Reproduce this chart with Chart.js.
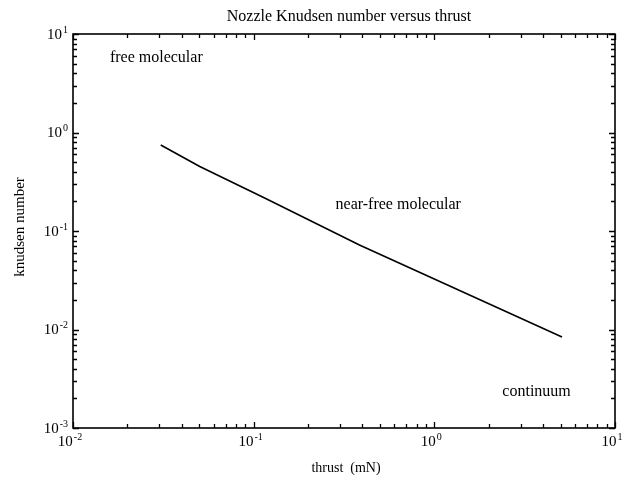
<!DOCTYPE html>
<html lang="en">
<head>
    <title>Nozzle Knudsen number versus thrust</title>
    <script src="https://cdn.jsdelivr.net/npm/chart.js"></script>
    <style>
        body { margin: 0; background: #fff; }
        #chartContainer { width: 626px; height: 481px; }
    </style>
</head>
<body>

<div id="chartContainer">
    <canvas id="knudsenChart" width="626" height="481"></canvas>
</div>

<script>
// values (log-log)
const thrust = [0.0306, 0.0503, 0.115, 0.385, 5.09];      // mN
const knudsen = [0.746, 0.452, 0.216, 0.0721, 0.0084];

// decade exponents for the tick labels
const xExponents = [-2, -1, 0, 1];
const yExponents = [-3, -2, -1, 0, 1];

// flow regime labels, placed in data coordinates
const regionLabels = ['free molecular', 'near-free molecular', 'continuum'];
const regionX = [0.016, 0.284, 2.38];
const regionY = [5.8, 0.184, 0.00232];

const FONT = '"Liberation Serif", "Times New Roman", serif';

// draws "10" with a raised exponent
function drawPow(ctx, exp, px, py, align) {
    const base = '10';
    const sup = String(exp);
    ctx.font = '15px ' + FONT;
    const wb = ctx.measureText(base).width;
    ctx.font = '10px ' + FONT;
    const ws = ctx.measureText(sup).width;
    const total = wb + ws + 1;
    let left = px;
    if (align === 'right') left = px - total;
    if (align === 'center') left = px - total / 2;
    ctx.textAlign = 'left';
    ctx.textBaseline = 'middle';
    ctx.font = '15px ' + FONT;
    ctx.fillText(base, left, py);
    ctx.font = '10px ' + FONT;
    ctx.fillText(sup, left + wb + 1, py - 5);
}

// frame, inward ticks on all sides, labels and titles
const decorPlugin = {
    id: 'decor',
    afterDraw(chart) {
        const { ctx, chartArea: a, scales: { x, y } } = chart;
        ctx.save();
        ctx.strokeStyle = '#000';
        ctx.fillStyle = '#000';
        ctx.lineWidth = 1.6;
        ctx.strokeRect(a.left, a.top, a.width, a.height);

        ctx.lineWidth = 1.3;
        ctx.beginPath();
        for (let e = xExponents[0]; e <= xExponents[xExponents.length - 1]; e++) {
            for (let m = 1; m <= 9; m++) {
                const v = m * Math.pow(10, e);
                if (v > x.max * 1.0001) break;
                const px = Math.round(x.getPixelForValue(v)) + 0.5;
                const len = m === 1 ? 6 : 4;
                ctx.moveTo(px, a.bottom); ctx.lineTo(px, a.bottom - len);
                ctx.moveTo(px, a.top); ctx.lineTo(px, a.top + len);
            }
        }
        for (let e = yExponents[0]; e <= yExponents[yExponents.length - 1]; e++) {
            for (let m = 1; m <= 9; m++) {
                const v = m * Math.pow(10, e);
                if (v > y.max * 1.0001) break;
                const py = Math.round(y.getPixelForValue(v)) + 0.5;
                const len = m === 1 ? 6 : 4;
                ctx.moveTo(a.left, py); ctx.lineTo(a.left + len, py);
                ctx.moveTo(a.right, py); ctx.lineTo(a.right - len, py);
            }
        }
        ctx.stroke();

        xExponents.forEach(e => {
            drawPow(ctx, e, x.getPixelForValue(Math.pow(10, e)) - 3, a.bottom + 14, 'center');
        });
        yExponents.forEach(e => {
            drawPow(ctx, e, a.left - 5, y.getPixelForValue(Math.pow(10, e)) + 1, 'right');
        });

        ctx.font = '16px ' + FONT;
        ctx.textAlign = 'left';
        ctx.textBaseline = 'middle';
        regionLabels.forEach((t, i) => {
            ctx.fillText(t, x.getPixelForValue(regionX[i]), y.getPixelForValue(regionY[i]));
        });

        ctx.textAlign = 'center';
        ctx.fillText('Nozzle Knudsen number versus thrust', 349, 17);
        ctx.font = '14px ' + FONT;
        ctx.fillText('thrust  (mN)', 346, 468);
        ctx.font = '15px ' + FONT;
        ctx.translate(20, 227);
        ctx.rotate(-Math.PI / 2);
        ctx.fillText('knudsen number', 0, 0);
        ctx.restore();
    }
};

const ctx = document.getElementById('knudsenChart').getContext('2d');
new Chart(ctx, {
    type: 'line',
    data: {
        datasets: [{
            label: 'knudsen number',
            data: thrust.map((t, i) => ({ x: t, y: knudsen[i] })),
            borderColor: '#000',
            borderWidth: 1.6,
            pointRadius: 0,
            tension: 0,
            fill: false
        }]
    },
    options: {
        responsive: false,
        animation: false,
        layout: { padding: { left: 73, right: 11, top: 34, bottom: 53 } },
        plugins: { legend: { display: false }, tooltip: { enabled: false } },
        scales: {
            x: { type: 'logarithmic', min: 0.01, max: 10, display: false },
            y: { type: 'logarithmic', min: 0.001, max: 10, display: false }
        }
    },
    plugins: [decorPlugin]
});
</script>

</body>
</html>
